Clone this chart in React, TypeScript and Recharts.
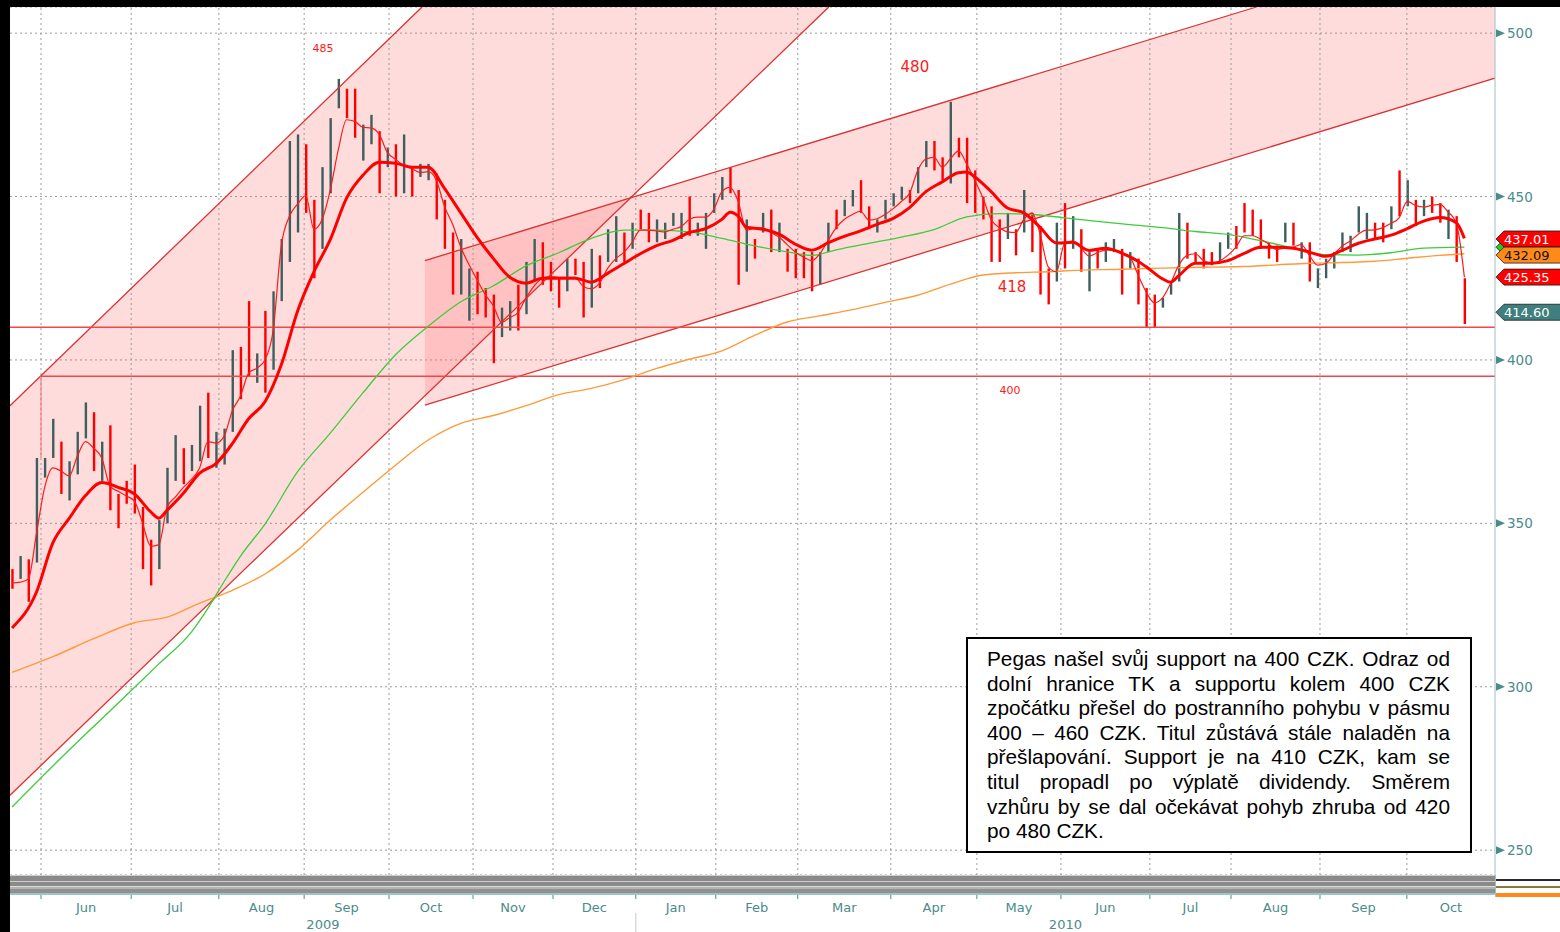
import React from "react";
import {
  ComposedChart,
  Bar,
  Line,
  XAxis,
  YAxis,
  CartesianGrid,
  ReferenceLine,
  ReferenceArea,
  ReferenceDot,
} from "recharts";

const UP = "#3f5f5f";
const DOWN = "#ff0000";
const AXIS = "#4a8b8b";
const FONT = "'DejaVu Sans', sans-serif";

const Y_MIN = 242.4;
const Y_MAX = 508;
const LAST_DAY = 364;

// trading-day index where each month starts (Jun 2009 .. Oct 2010)
const monthNames = ["Jun", "Jul", "Aug", "Sep", "Oct", "Nov", "Dec", "Jan", "Feb", "Mar", "Apr", "May", "Jun", "Jul", "Aug", "Sep", "Oct"];
const monthStart = [7.6, 29.7, 51.2, 72.1, 92.9, 113.5, 133.1, 153.4, 173.0, 193.1, 215.9, 237.0, 257.6, 279.4, 299.3, 321.1, 342.4];
const years = ["2009", "2010"];
const yTicks = [250, 300, 350, 400, 450, 500];

// one bar per two trading days: [high, low, up]
const bars2009 = [
  [336, 330, 0], [340, 333, 1], [339, 326, 0], [370, 338, 1], [370, 364, 1], [382, 370, 1], [375, 359, 0], [369, 357, 1],
  [378, 365, 1], [387, 376, 1], [384, 366, 0], [375, 363, 1], [380, 354, 0], [359, 348.5, 0], [363, 356, 0], [368, 353, 0],
  [355, 336, 0], [345, 331, 0], [351, 336, 1], [367, 350, 1], [377, 363, 1], [373, 362, 0], [374, 366, 1], [386, 369, 1],
  [390, 370, 0], [378, 367, 1], [379, 368, 1], [403, 378, 1], [404, 388, 0], [418, 395, 0], [402, 393, 1], [415, 390, 0],
  [421, 397, 1], [437, 418, 1], [467, 430, 1], [469, 439, 1], [466, 445, 0], [449, 425, 0], [459, 434, 1], [474, 451, 1],
  [486, 477, 1], [483, 474, 0], [483, 468, 0], [472, 461, 1], [475, 466, 1], [470, 451, 0], [465, 459, 1], [466, 450, 0],
  [469, 451, 1], [459, 450, 0], [460, 456, 1], [460, 455, 1], [457, 443, 0], [449, 434, 0], [439, 420, 0], [437, 420, 1],
  [428, 412, 1], [427, 414, 0], [422, 413, 0], [420, 399, 0], [416, 407, 1], [418, 409, 1], [423, 409, 0], [430, 414, 1],
  [437, 424, 1], [436, 423, 0], [430, 421, 0], [425, 416, 0], [431, 421, 1], [431, 426, 0], [430, 413, 0], [434, 416, 1],
  [432, 422, 0], [440, 430, 1], [444, 430, 1], [439, 430, 0], [442, 434, 1],
];
const bars2010 = [
  [446, 440, 0], [445, 436, 0], [443, 436, 1], [442, 437, 1], [445, 441, 1], [445, 437, 1], [450, 438, 0], [442, 438, 1],
  [445, 434, 1], [451, 445, 1], [456, 449, 1], [459, 451, 0], [452, 423, 0], [443, 427, 1], [437, 431, 0], [445, 439, 1],
  [446, 433, 0], [442, 433, 1], [434, 427, 0], [434, 425, 0], [433, 425, 0], [433, 421, 0], [433, 423, 1], [442, 433, 1],
  [446, 440, 0], [449, 444, 1], [452, 447, 1], [455, 445, 0], [447, 440, 0], [443, 439, 1], [449, 443, 1], [451, 447, 1],
  [453, 449, 1], [452, 448, 0], [459, 451, 1], [467, 459, 1], [467, 458, 0], [462, 455, 0], [479, 454, 1], [468, 462, 0],
  [468, 448, 0], [458, 445, 0], [450, 443, 0], [447, 430, 0], [443, 430, 0], [445, 437, 1], [440, 432, 0], [452, 439, 1],
  [445, 433, 0], [441, 420, 0], [428, 417, 0], [442, 424, 1], [448, 428, 0], [444, 434, 1], [440, 427, 0], [433, 421, 1],
  [434, 428, 0], [436, 430, 1], [437, 433, 1], [434, 420, 0], [433, 428, 1], [431, 417, 0], [422, 410, 0], [420, 410, 0],
  [419, 416, 1], [424, 420, 1], [445, 424, 1], [442, 431, 0], [433, 430, 0], [434, 428, 0], [433, 429, 0], [436, 430, 1],
  [439, 434, 1], [441, 434, 0], [448, 439, 0], [446, 438, 0], [443, 434, 0], [436, 431, 0], [435, 430, 0], [442, 436, 1],
  [442, 435, 0], [436, 431, 1], [436, 424, 0], [428, 422, 1], [431, 425, 1], [433, 428, 1], [439, 433, 1], [438, 433, 1],
  [447, 439, 1], [445, 437, 1], [442, 437, 0], [442, 436, 0], [447, 440, 1], [458, 444, 0], [455, 447, 1], [449, 441, 0],
  [449, 444, 1], [450, 445, 0], [448, 442, 0], [446, 437, 1], [444, 430, 0], [425, 411, 0],
];

// short moving average, one value per bar
const ma5 = [
  331.7, 332, 333, 347, 361, 367, 366, 364.5, 370.5, 375,
  373, 370, 361.5, 359.8, 358.4, 356.8, 350, 343, 343.5, 355,
  358, 361, 363.5, 367, 375, 374.6, 376.7, 384.5, 389, 396,
  397.5, 400, 409, 435, 444, 447.7, 450.3, 440, 443, 452,
  464.5, 473.5, 473, 471.2, 471, 469, 463.5, 461.4, 459.5, 458.5,
  457.4, 457.6, 455, 447, 441.5, 434.5, 429.2, 424.5, 420, 416.5,
  411.5, 413, 414.5, 419, 422.7, 425, 425.5, 425.3, 425.3, 425.3,
  422.5, 421.8, 423.5, 428, 431, 433, 436, 439.7, 439.7, 439.5,
  439.2, 440, 440.8, 443, 443.7, 443.7, 446, 451.5, 452.8, 448.5,
  439.7, 440.3, 440.4, 439, 437.6, 435.3, 433, 431.5, 430.4, 432.5,
  436.5, 440.5, 443, 444.5, 445.5, 442.8, 443.2, 444.5, 446.3, 448.5,
  451, 458, 461.5, 462, 459, 461.5, 464, 460, 455, 449.5,
  443, 440.5, 439.2, 439, 443, 445, 438.5, 428.5, 427, 435.7,
  436.4, 434.3, 431.8, 432.8, 433.6, 433.6, 432.8, 431.5, 426, 420.8,
  417.5, 419, 423.5, 429, 432, 432.5, 430.5, 429.7, 430.3, 432,
  434.5, 438, 438, 437, 435.5, 433.8, 434.2, 434.5, 435.3, 432,
  429, 429.5, 432.3, 434.8, 436.4, 438.5, 439.7, 439.8, 440.5, 441.8,
  443.5, 448.5, 447.3, 446.8, 447.3, 447.6, 445.3, 442, 425.3,
];

// longer averages, [bar index, value]
const ma20 = [
  [0, 318], [3, 329], [5, 344], [7, 351.5], [9, 358.5], [11, 362.5], [13, 361], [15, 359], [17, 353.5], [18, 351.6],
  [19, 354], [21, 359.2], [23, 365.4], [25, 368.3], [27, 374.4], [29, 382], [31, 387.2], [33, 398.5], [35, 415], [37, 427],
  [39, 436.8], [41, 449.5], [43, 456.5], [45, 460.5], [47, 460.2], [49, 459], [51, 459], [53, 452.5], [55, 445], [57, 437.5],
  [59, 431], [61, 425.3], [63, 423.5], [65, 425], [67, 425], [69, 425], [71, 423.8], [73, 426.5], [75, 429.5], [77, 432.5],
  [79, 435], [81, 436.6], [83, 439], [85, 440.2], [87, 443], [88, 445.2], [89, 444], [90, 440.6], [92, 440], [94, 438.5],
  [96, 435.4], [98, 433.6], [100, 435.8], [102, 437.8], [104, 439.5], [106, 441.5], [108, 443.3], [110, 446.6], [112, 451.5], [114, 454.5],
  [116, 457.3], [117, 457.5], [118, 456], [120, 451.5], [122, 446.5], [124, 445], [126, 440.6], [128, 435.8], [130, 436], [132, 433.5],
  [134, 434.2], [136, 432.7], [138, 430.2], [139, 428.5], [141, 424.8], [142, 423.8], [143, 425.8], [145, 429.6], [147, 429.6], [149, 430.4],
  [151, 432.6], [153, 434.5], [155, 434.5], [157, 434.2], [159, 433], [161, 431.7], [163, 433.5], [165, 435.7], [167, 437], [169, 438.2],
  [171, 440.2], [173, 442.5], [175, 443.6], [177, 442], [178, 437.2],
];
const ma100 = [
  [0, 263.2], [6, 278.2], [12, 292.6], [18, 307], [22, 316.8], [24, 324], [26, 332.2], [28, 340], [31, 349.8], [35, 365.8],
  [39, 377.6], [43, 389.9], [47, 401.6], [51, 410.3], [55, 417.8], [59, 422.7], [63, 428.8], [67, 432.8], [71, 437.2], [75, 439.7],
  [79, 439.7], [83, 439.2], [87, 437.2], [91, 434.9], [95, 433.1], [98, 432], [101, 433.7], [105, 435.7], [109, 437.6], [113, 439.9],
  [117, 443.8], [121, 444.8], [125, 444.5], [129, 443.5], [133, 442.4], [137, 441.4], [141, 440.5], [145, 439.3], [149, 438.4], [153, 436.5],
  [157, 434.3], [161, 432.2], [165, 432.1], [169, 432.8], [173, 434.2], [178, 434.5],
];
const ma200 = [
  [0, 304.4], [5, 309.2], [10, 314.7], [15, 319.6], [19, 321.3], [23, 325.6], [27, 329.5], [31, 334.5], [35, 341.8], [39, 351],
  [43, 359.5], [47, 367.8], [51, 375.5], [55, 380.6], [59, 383], [63, 386], [67, 389.4], [71, 391.3], [75, 394], [79, 397.4],
  [83, 400.2], [87, 402.8], [91, 407.5], [95, 411.6], [99, 413.5], [103, 415.4], [107, 417.6], [111, 419.8], [115, 423.2], [119, 426],
  [123, 426.7], [127, 427], [131, 427.5], [135, 427.7], [139, 428], [143, 428.2], [147, 428.4], [151, 428.6], [155, 429.1], [159, 429.6],
  [163, 429.8], [167, 430.2], [171, 431.1], [175, 432], [178, 432.5],
];

// trend channels, [day, price] end points
const chanAUpper = [[0, 386], [101, 508]];
const chanALower = [[0, 266.8], [200.7, 508]];
const chanBUpper = [[101.7, 430.4], [305.5, 508]];
const chanBLower = [[101.7, 386.2], [364, 486.2]];
const supports = [410, 395];
const supportStart = 7.6;

const notes = [["485", 76.7, 495.4, 11], ["480", 221.8, 489.6, 15], ["418", 245.6, 422.3, 15], ["400", 245.1, 390.5, 11]];
const lastValues = [434.5, 437.01, 432.09, 425.35, 414.6];
const tagColors = [["#22cc22", "#000"], ["#ff0000", "#fff"], ["#ff8a1a", "#111"], ["#ff0000", "#fff"], ["#3f7f7f", "#fff"]];

const noteLines = [
  "Pegas našel svůj support na 400 CZK. Odraz od",
  "dolní hranice TK a supportu kolem 400 CZK",
  "zpočátku přešel do postranního pohybu v pásmu",
  "400 – 460 CZK. Titul zůstává stále naladěn na",
  "přešlapování. Support je na 410 CZK, kam se",
  "titul propadl po výplatě dividendy. Směrem",
  "vzhůru by se dal očekávat pohyb zhruba od 420",
  "po 480 CZK.",
];

const monthMid = monthStart.map((d, i) => (d + (monthStart[i + 1] ?? LAST_DAY)) / 2);
const yearMid = [monthStart[7] / 2, (monthStart[7] + LAST_DAY) / 2];
const xTicks = [...monthStart, ...monthMid, ...yearMid].sort((a, b) => a - b);

const toMap = (pairs: number[][]) => new Map(pairs.map(([k, v]) => [k, v]));
const ma20Map = toMap(ma20);
const ma100Map = toMap(ma100);
const ma200Map = toMap(ma200);

const rows = [...bars2009, ...bars2010].map(([high, low, up], k) => ({
  day: 2 * k + 0.5,
  range: [low, high],
  up,
  ma5: ma5[k],
  ma20: ma20Map.get(k),
  ma100: ma100Map.get(k),
  ma200: ma200Map.get(k),
}));

const fillA = [chanALower[0], chanAUpper[0], chanAUpper[1], chanALower[1]];
const fillB = [chanBLower[0], chanBUpper[0], chanBUpper[1], [LAST_DAY, Y_MAX], chanBLower[1]];

const ChannelFill = (p: any) => {
  const sx = (d: number) => p.x + (d / LAST_DAY) * p.width;
  const sy = (v: number) => p.y + ((Y_MAX - v) / (Y_MAX - Y_MIN)) * p.height;
  return (
    <g>
      {[fillA, fillB].map((pts, i) => (
        <polygon
          key={i}
          points={pts.map(([d, v]) => `${sx(d)},${sy(v)}`).join(" ")}
          fill="#ff6b6b"
          fillOpacity={0.24}
        />
      ))}
    </g>
  );
};

const OhlcBar = (p: any) => {
  const row = p.payload ?? p;
  const cx = p.x + p.width / 2;
  const top = p.height >= 0 ? p.y : p.y + p.height;
  const h = Math.max(Math.abs(p.height), 1);
  return <rect x={cx - 1.2} y={top} width={2.4} height={h} fill={row.up ? UP : DOWN} />;
};

const XTick = (p: any) => {
  const { x, y, payload } = p;
  const v = payload.value;
  const s = monthStart.indexOf(v);
  if (s >= 0) {
    return (
      <g>
        <line x1={x} x2={x} y1={y + 20} y2={y + 24} stroke={AXIS} />
        {s === 7 && <line x1={x} x2={x} y1={y + 38} y2={y + 57} stroke="#c8c8c8" />}
      </g>
    );
  }
  const m = monthMid.indexOf(v);
  if (m >= 0) {
    return (
      <text x={x} y={y + 37} textAnchor="middle" fontFamily={FONT} fontSize={13} fill={AXIS}>
        {monthNames[m]}
      </text>
    );
  }
  const yr = yearMid.indexOf(v);
  if (yr >= 0) {
    return (
      <text x={x} y={y + 54} textAnchor="middle" fontFamily={FONT} fontSize={13} fill={AXIS}>
        {years[yr]}
      </text>
    );
  }
  return <g />;
};

const YTick = (p: any) => {
  const { x, y, payload } = p;
  return (
    <g>
      <polygon points={`${x + 1},${y - 4} ${x + 10},${y} ${x + 1},${y + 4}`} fill={AXIS} />
      <text x={x + 12} y={y + 5} textAnchor="start" fontFamily={FONT} fontSize={13.5} fill={AXIS}>
        {payload.value}
      </text>
    </g>
  );
};

const tagShape = (i: number) => (p: any) => {
  const { cx, cy } = p;
  const [bg, fg] = tagColors[i];
  const h = 8;
  return (
    <g>
      <polygon
        points={`${cx + 1},${cy} ${cx + 9},${cy - h} ${cx + 66},${cy - h} ${cx + 66},${cy + h} ${cx + 9},${cy + h}`}
        fill={bg}
        stroke="#1a1a1a"
        strokeWidth={0.8}
      />
      <text x={cx + 9} y={cy + 4.5} fontFamily={FONT} fontSize={13} fill={fg}>
        {lastValues[i].toFixed(2)}
      </text>
    </g>
  );
};

const noteShape = (text: string, size: number) => (p: any) => (
  <text x={p.cx} y={p.cy} textAnchor="middle" dominantBaseline="central" fontFamily={FONT} fontSize={size} fill="#ff1a1a">
    {text}
  </text>
);

const channelLine = (pts: number[][], key: string) => (
  <ReferenceLine
    key={key}
    segment={[{ x: pts[0][0], y: pts[0][1] }, { x: pts[1][0], y: pts[1][1] }]}
    stroke="#dd3030"
    strokeWidth={1.3}
  />
);

export default function App() {
  return (
    <div style={{ position: "absolute", left: 0, top: 0, width: 1560, height: 932, background: "#fff", overflow: "hidden" }}>
      <ComposedChart width={1560} height={932} data={rows} margin={{ top: 7, right: 0, bottom: 0, left: 10 }}>
        <CartesianGrid vertical={false} stroke="#9a9a9a" strokeDasharray="2 3" />
        <XAxis
          type="number"
          dataKey="day"
          domain={[0, LAST_DAY]}
          allowDataOverflow
          ticks={xTicks}
          interval={0}
          tick={<XTick />}
          tickLine={false}
          axisLine={false}
          tickSize={0}
          tickMargin={0}
          height={57}
        />
        <YAxis
          orientation="right"
          type="number"
          domain={[Y_MIN, Y_MAX]}
          allowDataOverflow
          ticks={yTicks}
          interval={0}
          tick={<YTick />}
          tickLine={false}
          axisLine={{ stroke: "#9fc0c0" }}
          tickSize={0}
          tickMargin={0}
          width={65}
        />
        {monthStart.map((d) => (
          <ReferenceLine key={`m${d}`} x={d} stroke="#9a9a9a" strokeDasharray="2 3" />
        ))}
        <ReferenceArea x1={0} x2={LAST_DAY} y1={Y_MIN} y2={Y_MAX} shape={(p: any) => <ChannelFill {...p} />} />
        {channelLine(chanAUpper, "au")}
        {channelLine(chanALower, "al")}
        {channelLine(chanBUpper, "bu")}
        {channelLine(chanBLower, "bl")}
        <ReferenceLine
          segment={[{ x: 0, y: supports[0] }, { x: LAST_DAY, y: supports[0] }]}
          stroke="#f04848"
          strokeWidth={1.5}
        />
        <ReferenceLine
          segment={[{ x: supportStart, y: supports[1] }, { x: LAST_DAY, y: supports[1] }]}
          stroke="#f04848"
          strokeWidth={1.5}
        />
        <ReferenceLine
          segment={[{ x: supportStart, y: supports[1] }, { x: supportStart, y: 370 }]}
          stroke="#f07070"
          strokeWidth={1}
        />
        <Line dataKey="ma200" type="monotone" stroke="#ff9a38" strokeWidth={1.4} dot={false} connectNulls isAnimationActive={false} />
        <Line dataKey="ma100" type="monotone" stroke="#3ccc3c" strokeWidth={1.3} dot={false} connectNulls isAnimationActive={false} />
        <Bar dataKey="range" barSize={3} shape={(p: any) => <OhlcBar {...p} />} isAnimationActive={false} />
        <Line dataKey="ma5" type="monotone" stroke="#ff1a1a" strokeWidth={1.2} dot={false} connectNulls isAnimationActive={false} />
        <Line dataKey="ma20" type="monotone" stroke="#ff0000" strokeWidth={3} dot={false} connectNulls isAnimationActive={false} />
        {notes.map(([t, d, v, s]) => (
          <ReferenceDot
            key={`n${t}`}
            x={d as number}
            y={v as number}
            r={0}
            ifOverflow="visible"
            shape={noteShape(t as string, s as number)}
          />
        ))}
        {lastValues.map((v, i) => (
          <ReferenceDot key={`t${i}`} x={LAST_DAY} y={v} r={0} ifOverflow="visible" shape={tagShape(i)} />
        ))}
      </ComposedChart>

      {/* collapsed lower panel strip */}
      <div
        style={{
          position: "absolute",
          left: 10,
          top: 875,
          width: 1485,
          height: 20,
          background:
            "linear-gradient(to bottom, #cfcfcf 0 1px, #8a8a8a 1px 6px, #cdcdcd 6px 7px, #8a8a8a 7px 11px, #dcdcdc 11px 12px, #b4b4b4 12px 14px, #909090 14px 18px, #9cc4c4 18px 20px)",
        }}
      />
      <div
        style={{
          position: "absolute",
          left: 1495,
          top: 876,
          width: 65,
          height: 21,
          background:
            "linear-gradient(to bottom, #fff 0 3px, #2a2a2a 3px 5px, #fff 5px 10px, #8a7a3a 10px 12px, #fff 12px 17px, #ff8a1a 17px 21px)",
        }}
      />
      <div style={{ position: "absolute", left: 1495, top: 875, width: 1, height: 22, background: "#9fc0c0" }} />

      {/* frame */}
      <div style={{ position: "absolute", left: 0, top: 0, width: 1560, height: 7, background: "#000" }} />
      <div style={{ position: "absolute", left: 0, top: 0, width: 10, height: 932, background: "#000" }} />

      {/* comment box */}
      <div
        style={{
          position: "absolute",
          left: 966,
          top: 637,
          width: 506,
          height: 216,
          boxSizing: "border-box",
          border: "2px solid #000",
          background: "#fff",
          padding: "8px 20px 0 19px",
          fontFamily: "'Liberation Sans', Arial, sans-serif",
          fontSize: 20.8,
          lineHeight: "24.6px",
          color: "#000",
        }}
      >
        {noteLines.map((t, i) => {
          const last = i === noteLines.length - 1;
          return (
            <div key={i} style={{ textAlign: last ? "left" : "justify", textAlignLast: last ? "left" : "justify" }}>
              {t}
            </div>
          );
        })}
      </div>
    </div>
  );
}
